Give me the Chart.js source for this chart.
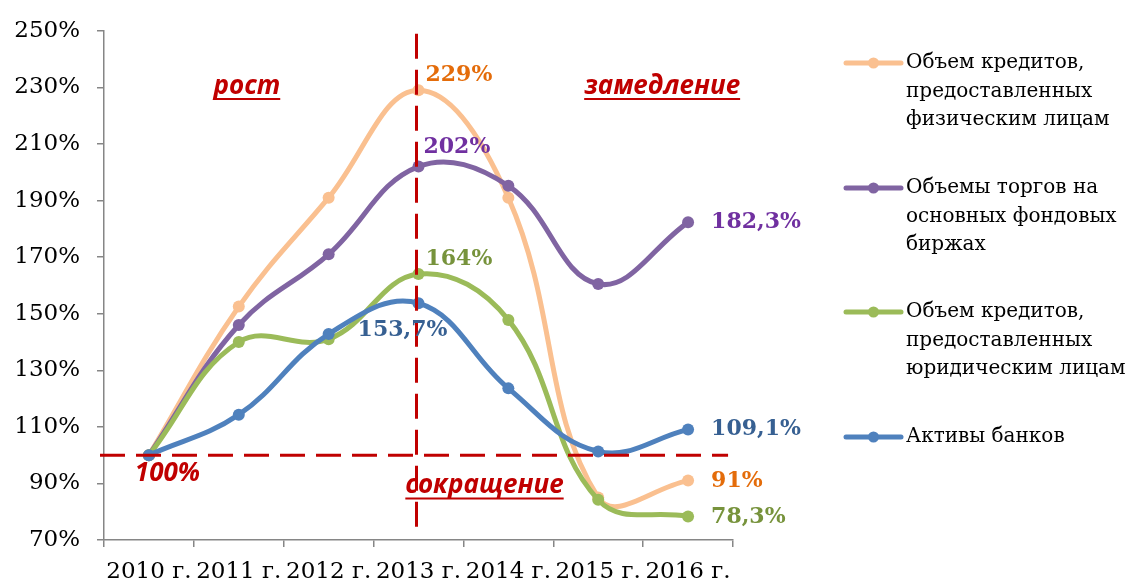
<!DOCTYPE html>
<html><head><meta charset="utf-8">
<script src="https://cdn.jsdelivr.net/npm/chart.js@4.4.1/dist/chart.umd.min.js"></script>
<style>html,body{margin:0;padding:0;background:#fff;}#wrap{position:relative;width:1133px;height:585px;}</style>
</head><body><div id="wrap"><canvas id="c" width="1133" height="585"></canvas></div>
<script>
const categories = ['2010 г.','2011 г.','2012 г.','2013 г.','2014 г.','2015 г.','2016 г.'];
const loansIndividuals = [100, 152.5, 191, 229, 191, 85, 91];
const tradingVolumes = [100, 146, 171, 202, 195.2, 160.5, 182.3];
const loansCorporate = [100, 140, 141, 164, 147.8, 84.2, 78.3];
const bankAssets = [100, 114.3, 142.8, 153.7, 123.6, 101.3, 109.1];
const yMin = 70, yMax = 250, yStep = 20;
const seriesNames = [
  ['Объем кредитов,', 'предоставленных', 'физическим лицам'],
  ['Объемы торгов на', 'основных фондовых', 'биржах'],
  ['Объем кредитов,', 'предоставленных', 'юридическим лицам'],
  ['Активы банков']
];
const lineColors = ['#FAC090', '#8064A2', '#9BBB59', '#4F81BD'];
const labelColors = ['#E46C0A', '#7030A0', '#77933C', '#376092'];
const phaseLabels = ['рост', 'замедление', 'сокращение'];
const baseValue = 100;
const peakIndex = 3;

const RED = '#C00000';
const fmt = v => String(v).replace('.', ',') + '%';

const overlay = {
  id: 'overlay',
  afterDatasetsDraw(chart) {
    const ctx = chart.ctx, xs = chart.scales.x, ys = chart.scales.y, ca = chart.chartArea;
    ctx.save();
    // dashed reference lines
    ctx.strokeStyle = RED; ctx.lineWidth = 3; ctx.setLineDash([25, 11]);
    const vx = xs.getPixelForValue(peakIndex) - 2;
    ctx.beginPath(); ctx.moveTo(vx, ca.top + 3); ctx.lineTo(vx, ca.bottom - 4); ctx.stroke();
    const hy = ys.getPixelForValue(baseValue);
    ctx.beginPath(); ctx.moveTo(ca.left - 4, hy); ctx.lineTo(xs.getPixelForValue(categories.length - 1) + 40, hy); ctx.stroke();
    ctx.setLineDash([]);

    // data labels
    ctx.font = 'bold 22px "DejaVu Serif"';
    ctx.textBaseline = 'middle';
    const peakOffsets = [[7, -15, 'left'], [5, -19, 'left'], [7, -15, 'left'], [-16, 27, 'center']];
    const endOffsets = [1, 0, 1, 0];
    chart.data.datasets.forEach((ds, i) => {
      const meta = chart.getDatasetMeta(i);
      const p = meta.data[peakIndex];
      const o = peakOffsets[i];
      ctx.fillStyle = labelColors[i];
      ctx.textAlign = o[2];
      ctx.fillText(fmt(ds.data[peakIndex]), p.x + o[0], p.y + o[1]);
      const last = ds.data.length - 1;
      const q = meta.data[last];
      ctx.textAlign = 'left';
      ctx.fillText(fmt(ds.data[last]), q.x + 23, q.y + endOffsets[i]);
    });

    // phase annotations
    ctx.fillStyle = RED; ctx.strokeStyle = RED; ctx.lineWidth = 2;
    ctx.font = 'italic bold 26px "Open Sans"';
    ctx.textAlign = 'center'; ctx.textBaseline = 'alphabetic';
    const under = (t, cx, by) => {
      ctx.fillText(t, cx, by);
      const w = ctx.measureText(t).width;
      ctx.beginPath(); ctx.moveTo(cx - w / 2, by + 5.5); ctx.lineTo(cx + w / 2, by + 5.5); ctx.stroke();
    };
    under(phaseLabels[0], (xs.getPixelForValue(1) + xs.getPixelForValue(0)) / 2 + 53, ys.getPixelForValue(227.8));
    under(phaseLabels[1], (xs.getPixelForValue(5) + xs.getPixelForValue(6)) / 2 + 19, ys.getPixelForValue(227.8));
    under(phaseLabels[2], xs.getPixelForValue(peakIndex) + 66, ys.getPixelForValue(86.6));
    ctx.fillText(fmt(baseValue), xs.getPixelForValue(0) + 18.5, ys.getPixelForValue(91));

    // legend
    const lx0 = 846, lx1 = 901, tx = 906, lh = 28.5;
    const ly = [63, 188, 312, 437];
    ctx.font = '20px "DejaVu Serif"'; ctx.textAlign = 'left'; ctx.textBaseline = 'middle';
    seriesNames.forEach((lines, i) => {
      ctx.strokeStyle = lineColors[i]; ctx.lineWidth = 5; ctx.lineCap = 'round';
      ctx.beginPath(); ctx.moveTo(lx0, ly[i]); ctx.lineTo(lx1, ly[i]); ctx.stroke();
      ctx.fillStyle = lineColors[i];
      ctx.beginPath(); ctx.arc((lx0 + lx1) / 2, ly[i], 5.5, 0, Math.PI * 2); ctx.fill();
      ctx.fillStyle = '#000';
      lines.forEach((t, k) => ctx.fillText(t, tx, ly[i] + k * lh));
    });
    ctx.restore();
  }
};

const seriesData = [loansIndividuals, tradingVolumes, loansCorporate, bankAssets];
new Chart(document.getElementById('c'), {
  type: 'line',
  data: {
    labels: categories,
    datasets: seriesData.map((d, i) => ({
      label: seriesNames[i].join(' '),
      data: d,
      borderColor: lineColors[i],
      backgroundColor: lineColors[i],
      pointBackgroundColor: lineColors[i],
      pointBorderWidth: 0,
      pointRadius: 6,
      borderWidth: 5,
      tension: 0.4,
      order: 4 - i,
      clip: false
    }))
  },
  options: {
    responsive: false,
    animation: false,
    events: [],
    layout: { padding: { top: 29, right: 400, left: 0, bottom: 0 } },
    plugins: { legend: { display: false }, tooltip: { enabled: false } },
    scales: {
      x: {
        offset: true,
        grid: { offset: true, drawOnChartArea: false, tickLength: 7, color: '#868686', lineWidth: 1.5 },
        border: { color: '#868686', width: 1.5 },
        ticks: { color: '#000', font: { family: 'DejaVu Serif', size: 23 }, padding: 11, maxRotation: 0, autoSkip: false },
        afterFit(s) { s.height = 45; }
      },
      y: {
        min: yMin, max: yMax,
        grid: { drawOnChartArea: false, tickLength: 7, color: '#868686', lineWidth: 1.5 },
        border: { color: '#868686', width: 1.5 },
        ticks: { stepSize: yStep, color: '#000', font: { family: 'DejaVu Serif', size: 23 }, padding: 17, callback: v => v + '%' },
        afterFit(s) { s.width = 104; }
      }
    }
  },
  plugins: [overlay]
});
</script></body></html>
